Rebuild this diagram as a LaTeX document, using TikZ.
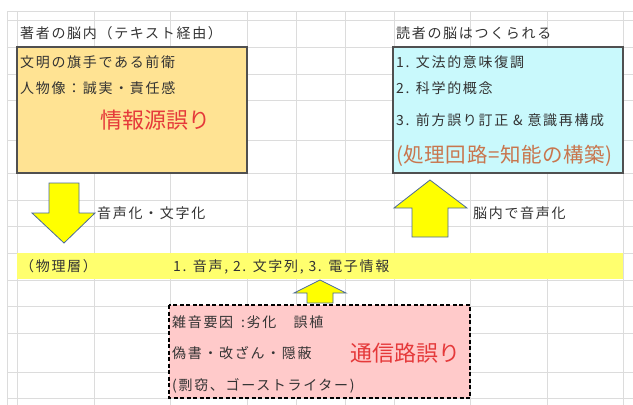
\documentclass[tikz,border=0pt]{standalone}
\usepackage{fontspec}
\setmainfont{Noto Sans CJK JP}[LetterSpace=12]
\newfontfamily\jpbig{Noto Sans CJK JP}
\newfontfamily\jpmid{Noto Sans CJK JP}[LetterSpace=3]
\definecolor{gridc}{HTML}{DCDCDC}
\definecolor{txtc}{HTML}{333333}
\definecolor{orfill}{HTML}{FFE393}
\definecolor{cyfill}{HTML}{C9F9FC}
\definecolor{pkfill}{HTML}{FFCACA}
\definecolor{bandc}{HTML}{FFFF6E}
\definecolor{arrowc}{HTML}{FFFF00}
\definecolor{arrowb}{HTML}{4A6A9A}
\definecolor{boxb}{HTML}{505050}
\definecolor{redt}{HTML}{E5393A}
\definecolor{brownt}{HTML}{C8764E}
\tikzset{
  txt/.style={anchor=west, inner sep=0pt, text=txtc, font=\fontsize{14}{16}\selectfont, text height=12.3pt, text depth=1.7pt},
  bigtxt/.style={anchor=west, inner sep=0pt, font=\fontsize{22}{24}\jpbig, text height=19.4pt, text depth=2.6pt},
  midtxt/.style={anchor=west, inner sep=0pt, font=\fontsize{20.5}{22}\jpmid, text height=18pt, text depth=2.5pt},
  boxa/.style={draw=boxb, line width=1.6pt},
  arrowshape/.style={fill=arrowc, draw=arrowb, line width=0.8pt, line join=miter},
}
\begin{document}
\begin{tikzpicture}[x=1pt,y=-1pt]
\useasboundingbox (0,0) rectangle (633,405);
\fill[white] (0,0) rectangle (633,405);
% grid
\foreach \gx in {7,17,94,170,247,296,345,394,470,547,623}
  \draw[gridc, line width=0.8pt] (\gx,11) -- (\gx,405);
\foreach \gy in {11,20,47,74,100,140,173,200,226,253,280,306,333,372,398}
  \draw[gridc, line width=0.8pt] (7,\gy) -- (633,\gy);
% titles
\node[txt] (t1) at (20,33) {著者の脳内（テキスト経由）};
\node[txt] (t2) at (396,33) {読者の脳はつくられる};
% orange box
\filldraw[boxa, fill=orfill] (17,47) rectangle (247,173);
\node[txt] (o1) at (20,62) {文明の旗手である前衛};
\node[txt] (o2) at (20,88) {人物像：誠実・責任感};
\node[bigtxt, text=redt] (o3) at (100,120) {情報源誤り};
% cyan box
\filldraw[boxa, fill=cyfill] (393,47) rectangle (623,173);
\node[txt] (c1) at (396,62) {1. 文法的意味復調};
\node[txt] (c2) at (396,88) {2. 科学的概念};
\node[txt] (c3) at (396,120) {3. 前方誤り訂正 \& 意識再構成};
\node[midtxt, text=brownt] (c4) at (396,155) {(処理回路=知能の構築)};
% down arrow
\filldraw[arrowshape] (49,183) -- (79,183) -- (79,213) -- (95,213) -- (64,243) -- (32,213) -- (49,213) -- cycle;
\node[txt] (a1) at (97,213) {音声化・文字化};
% up arrow
\filldraw[arrowshape] (430,180) -- (467,208) -- (448,208) -- (448,237) -- (412,237) -- (412,208) -- (394,208) -- cycle;
\node[txt] (a2) at (473,213) {脳内で音声化};
% band
\fill[bandc] (17,253) rectangle (623,279);
\node[txt] (b1) at (20,266) {（物理層）};
\node[txt] (b2) at (173,266) {1. 音声, 2. 文字列, 3. 電子情報};
% small up arrow
\filldraw[arrowshape] (320,280) -- (346,293) -- (333,293) -- (333,303) -- (307,303) -- (307,293) -- (294,293) -- cycle;
% pink box
\filldraw[draw=black, fill=pkfill, line width=1.2pt, dash pattern=on 4pt off 2.5pt] (169,305) rectangle (470,398);
\node[txt] (p1) at (172,322) {雑音要因\hspace{3pt} :劣化　誤植};
\node[txt] (p2) at (172,353) {偽書・改ざん・隠蔽};
\node[bigtxt, text=redt] (p3) at (350,353) {通信路誤り};
\node[txt] (p4) at (172,385) {(剽窃、ゴーストライター)};
\end{tikzpicture}
\end{document}
